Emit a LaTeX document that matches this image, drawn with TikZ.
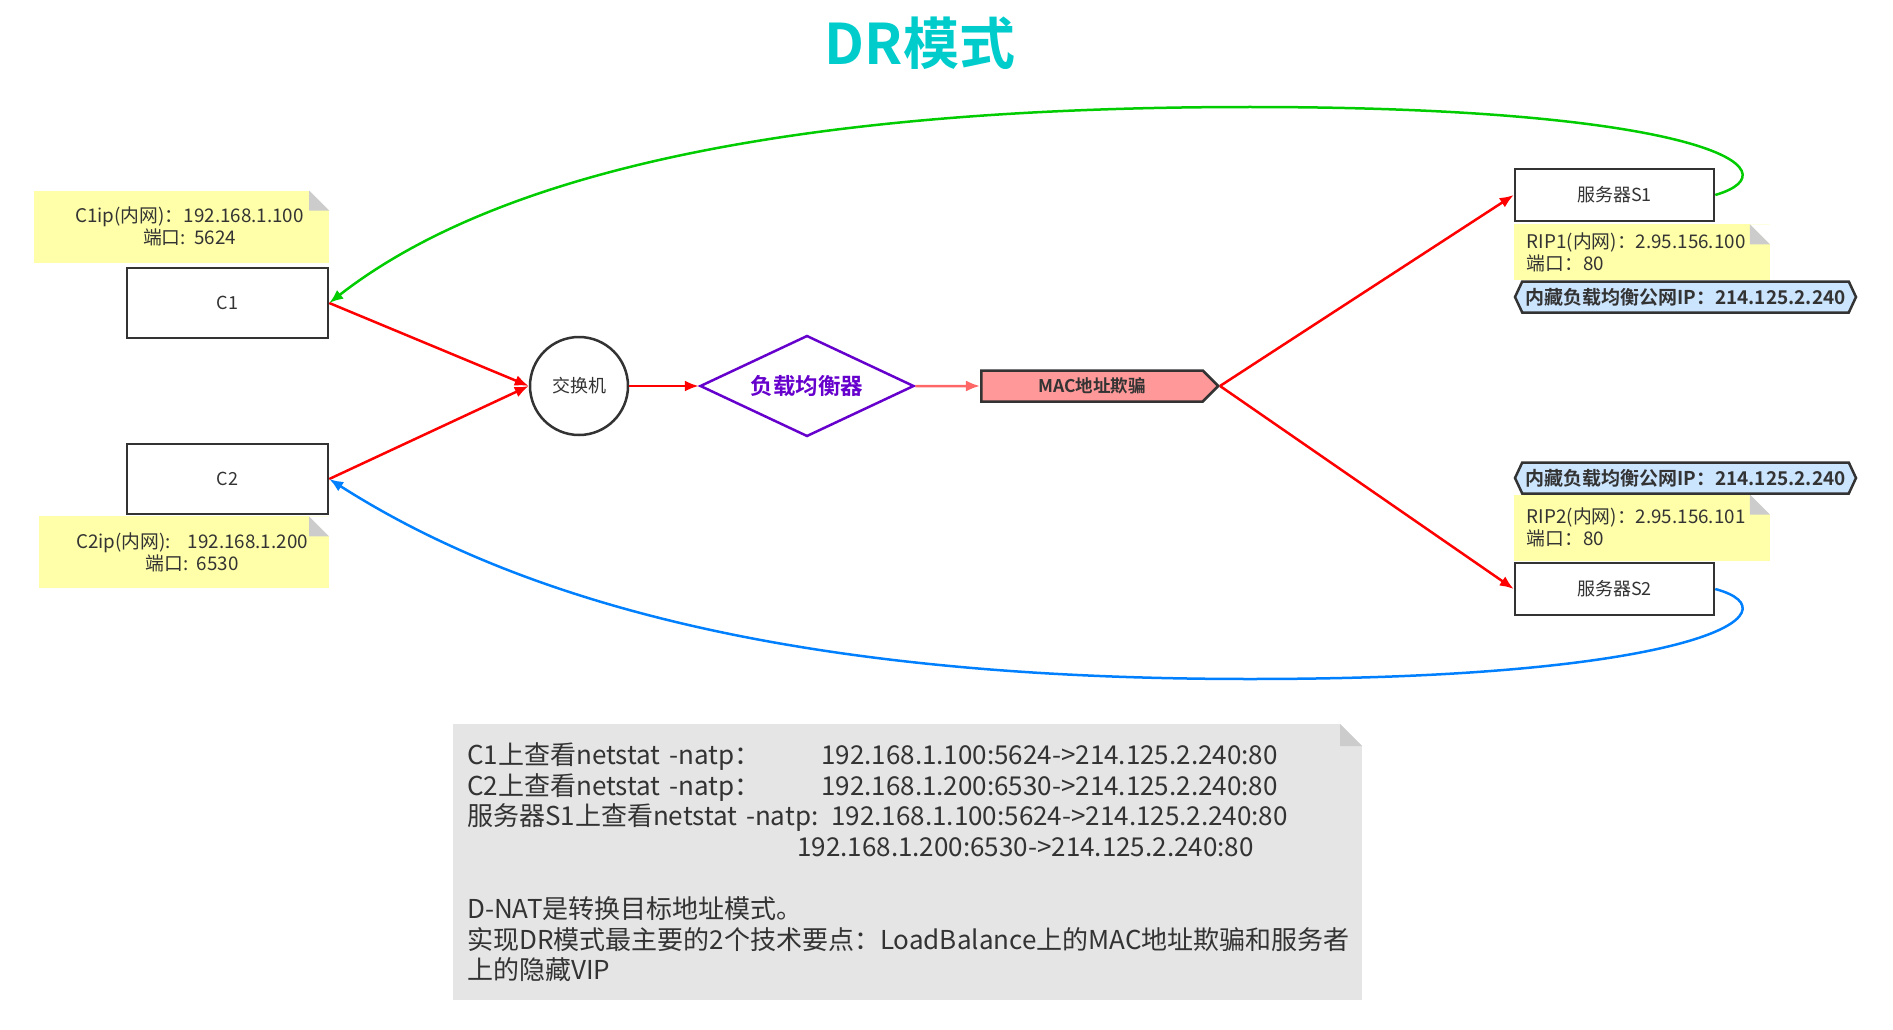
\documentclass[tikz,border=0pt]{standalone}
\usepackage{fontspec}
\setmainfont{Noto Sans CJK SC}[BoldFont={Noto Sans CJK SC Bold}]
\usepackage{xcolor}
\usepackage{tikz}
\usetikzlibrary{arrows.meta,calc,positioning,shapes.geometric,shapes.symbols}
\definecolor{drtitle}{HTML}{00CCCC}
\definecolor{drline}{HTML}{333333}
\definecolor{drnotefill}{HTML}{FFFFAA}
\definecolor{drfold}{HTML}{CCCCCC}
\definecolor{drmemofill}{HTML}{E5E5E5}
\definecolor{drred}{HTML}{FF0000}
\definecolor{drpink}{HTML}{FF6666}
\definecolor{drmacfill}{HTML}{FF9999}
\definecolor{drvipfill}{HTML}{CCE5FF}
\definecolor{drpurple}{HTML}{6600CC}
\definecolor{drgreen}{HTML}{00CC00}
\definecolor{drblue}{HTML}{0080FF}
\tikzset{%
  drbox/.style={%
    draw=drline,
    line width=2.5pt,
    fill=white,
    minimum width=201pt,
    minimum height=70pt,
    text=drline,
    font=\fontsize{18}{22}\selectfont
  },
  drserver/.style={%
    drbox,
    minimum width=199pt,
    minimum height=52pt
  },
  drnote/.style={%
    fill=drnotefill,
    text=drline,
    inner sep=0pt,
    font=\fontsize{18.8}{22}\selectfont,
    path picture={%
      \fill[white] (path picture bounding box.north east) -- ++(-#1,0pt) -- ++(#1,-#1) -- cycle;
      \fill[drfold] ($(path picture bounding box.north east)+(-#1,0pt)$) -- ++(0pt,-#1) -- ++(#1,0pt) -- cycle;
    }
  },
  drnote/.default=20pt,
  drmemo/.style={%
    drnote=22pt,
    fill=drmemofill,
    font=\fontsize{26}{30.8}\selectfont
  },
  drswitch/.style={%
    circle,
    draw=drline,
    line width=2.5pt,
    fill=white,
    minimum size=98pt,
    inner sep=0pt,
    text=drline,
    font=\fontsize{18}{22}\selectfont
  },
  drbalancer/.style={%
    diamond,
    aspect=2.1,
    draw=drpurple,
    line width=2.5pt,
    minimum width=214pt,
    minimum height=101pt,
    inner sep=0pt,
    text=drpurple,
    font=\fontsize{22.5}{24}\bfseries
  },
  drmac/.style={%
    signal,
    signal to=east,
    draw=drline,
    fill=drmacfill,
    line width=2.5pt,
    minimum width=237pt,
    minimum height=31pt,
    inner sep=0pt,
    text=drline,
    font=\fontsize{17.5}{20}\bfseries
  },
  drvip/.style={%
    signal,
    signal to=east and west,
    signal pointer angle=130,
    draw=drline,
    fill=drvipfill,
    line width=2.5pt,
    minimum width=341pt,
    minimum height=31pt,
    inner sep=0pt,
    text=drline,
    font=\fontsize{19}{20}\bfseries
  },
  drarrow/.style={-{Latex[length=14pt,width=11pt]},line width=2.5pt,draw=drred},
  drsoftarrow/.style={-{Latex[length=14pt,width=11pt]},line width=2.5pt,draw=drpink},
  drreturn/.style={-{Latex[length=14pt,width=11pt]},line width=2.5pt}
}
\begin{document}
\begin{tikzpicture}[x=1pt,y=-1pt]
    \useasboundingbox (0,0) rectangle (1893,1030);
    \node[text=drtitle,font=\fontsize{56}{60}\bfseries] (title) at (920,43) {DR模式};

    \node[drbox] (c1) at (227.5,303) {C1};
    \node[drbox] (c2) at (227.5,479) {C2};
    \node[drnote,minimum width=295pt,minimum height=72pt,align=center,above=4pt of c1.north east,anchor=south east] (c1note) {\hspace*{16pt}C1ip(内网)：192.168.1.100\\\hspace*{16pt}端口:\ \ 5624};
    \node[drnote,minimum width=290pt,minimum height=72pt,align=center,below=1pt of c2.south east,anchor=north east] (c2note) {\hspace*{16pt}C2ip(内网):\hspace{0.9em}192.168.1.200\\\hspace*{16pt}端口:\ \ 6530};

    \node[drswitch] (switch) at (579,386) {交换机};
    \node[drbalancer] (balancer) at (807,386) {负载均衡器};
    \node[drmac] (mac) at (1092,386) {MAC地址欺骗};

    \node[drserver] (s1) at (1614.5,195) {服务器S1};
    \node[drserver] (s2) at (1614.5,589) {服务器S2};
    \node[drnote,minimum width=256pt,minimum height=56pt,text width=230pt,inner xsep=13pt,align=left,below=2pt of s1.south west,anchor=north west] (rip1) {RIP1(内网)：2.95.156.100\\端口：80};
    \node[drnote,minimum width=256pt,minimum height=66pt,text width=230pt,inner xsep=13pt,align=left,above=1pt of s2.north west,anchor=south west] (rip2) {RIP2(内网)：2.95.156.101\\端口：80};
    \node[drvip] (vip1) at (1685.5,297) {内藏负载均衡公网IP：214.125.2.240};
    \node[drvip] (vip2) at (1685.5,478) {内藏负载均衡公网IP：214.125.2.240};

    \node[drmemo,anchor=north west,minimum width=909pt,minimum height=276pt,text width=881pt,inner xsep=14pt,align=left] (memo) at (453,724) {%
      \makebox[354pt][l]{C1上查看netstat -natp：}192.168.1.100:5624->214.125.2.240:80\\
      \makebox[354pt][l]{C2上查看netstat -natp：}192.168.1.200:6530->214.125.2.240:80\\
      服务器S1上查看netstat -natp: 192.168.1.100:5624->214.125.2.240:80\\
      \hspace*{330pt}192.168.1.200:6530->214.125.2.240:80\\[30.8pt]
      D-NAT是转换目标地址模式。\\
      实现DR模式最主要的2个技术要点：LoadBalance上的MAC地址欺骗和服务者\\
      上的隐藏VIP};

    \draw[drarrow] (c1.east) -- (switch.west);
    \draw[drarrow] (c2.east) -- (switch.west);
    \draw[drarrow] (switch) -- (balancer);
    \draw[drsoftarrow] (balancer) -- (mac);
    \draw[drarrow] (mac.east) -- (s1.west);
    \draw[drarrow] (mac.east) -- (s2.west);
    \draw[drreturn,draw=drgreen] (s1.east) .. controls (1800,170) and (1700,107) .. (1250,107) .. controls (800,107) and (500,170) .. (c1.east);
    \draw[drreturn,draw=drblue] (s2.east) .. controls (1800,612) and (1700,679) .. (1250,679) .. controls (850,679) and (550,620) .. (c2.east);
  \end{tikzpicture}
\end{document}
